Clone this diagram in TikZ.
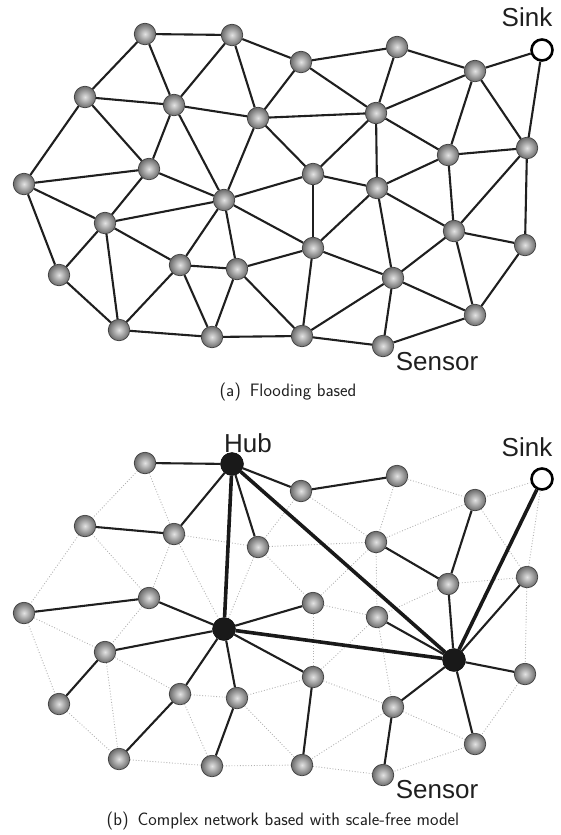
\documentclass[tikz,border=0pt]{standalone}
\usepackage{fontspec}
\newfontfamily\arialf{Liberation Sans}
\begin{document}
\begin{tikzpicture}[x=1pt,y=-1pt,
  sball/.style={circle, minimum size=21.5pt, inner sep=0pt, draw=black!75, line width=0.7pt,
    shading=radial, inner color=gray!22, outer color=black!58},
  sinknode/.style={circle, minimum size=21pt, inner sep=0pt, draw=black, line width=2.6pt, fill=white},
  hubnode/.style={circle, minimum size=23pt, inner sep=0pt, fill=black!90, draw=black},
  edge/.style={draw=black!88, line width=2.1pt},
  thickedge/.style={draw=black!90, line width=3.6pt},
  mesh/.style={draw=gray!60, line width=0.9pt, dash pattern=on 0.9pt off 1.9pt},
  lbl/.style={inner sep=0pt, font=\arialf\fontsize{26}{30}\selectfont, text=black!88},
  captext/.style={inner sep=0pt, font=\sffamily\fontsize{18}{21}\selectfont, text=black!88}]
\useasboundingbox (0,0) rectangle (560,835);

% ---------- panel (a) nodes ----------
\foreach \i/\x/\y in {1/145/34, 2/232/35, 3/85/97, 4/174/105, 5/258/118, 6/149/169,
  7/24/184, 8/224/200, 9/301/62, 10/397/47, 12/475/71, 13/376/113, 14/448/155,
  15/527/148, 16/313/174, 17/377/188, 18/105/223, 19/59/275, 20/180/265, 21/237/269,
  22/119/330, 23/212/337, 24/313/248, 25/454/231, 26/525/245, 27/393/278, 28/302/336,
  29/475/315, 30/383/346}
  {\node[sball] (a\i) at (\x,\y) {};}
\node[sinknode] (a11) at (542,50) {};

% ---------- panel (b) nodes ----------
\foreach \i/\x/\y in {1/145/34, 3/85/97, 4/174/105, 5/258/118, 6/149/169,
  7/24/184, 9/301/62, 10/397/47, 12/475/71, 13/376/113, 14/448/155,
  15/527/148, 16/313/174, 17/377/188, 18/105/223, 19/59/275, 20/180/265, 21/237/269,
  22/119/330, 23/212/337, 24/313/248, 26/525/245, 27/393/278, 28/302/336,
  29/475/315, 30/383/346}
  {\node[sball] (b\i) at (\x,\y+429) {};}
\node[sinknode] (b11) at (542,479) {};
\node[hubnode] (b2) at (232,464) {};
\node[hubnode] (b8) at (224,629) {};
\node[hubnode] (b25) at (454,660) {};

% ---------- mesh edges ----------
\foreach \u/\v in {1/2, 1/3, 1/4, 2/4, 2/5, 2/9, 3/4, 3/6, 3/7, 4/5, 4/6, 4/8, 5/8, 5/9,
  5/13, 5/16, 6/7, 6/8, 6/18, 7/18, 7/19, 8/16, 8/18, 8/20, 8/21, 8/24, 9/10, 9/13,
  10/13, 10/12, 11/12, 11/15, 12/13, 12/14, 12/15, 13/14, 13/16, 13/17, 14/15, 14/17,
  14/25, 15/25, 15/26, 16/17, 16/24, 17/24, 17/25, 17/27, 18/19, 18/20, 18/22, 19/22,
  20/21, 20/22, 20/23, 21/23, 21/24, 21/28, 22/23, 23/28, 24/27, 24/28, 25/26, 25/27,
  25/29, 26/29, 27/28, 27/29, 27/30, 28/30, 29/30}
  {\draw[edge] (a\u) -- (a\v);
   \draw[mesh] (b\u) -- (b\v);}

% ---------- scale-free edges ----------
\foreach \u/\v in {1/2, 2/4, 3/4, 2/5, 2/9, 6/7, 6/8, 9/10, 12/14, 13/14, 14/25, 15/25,
  8/16, 17/25, 25/26, 25/27, 25/29, 8/24, 24/28, 27/30, 8/18, 18/19, 8/20, 20/22,
  8/21, 21/23}
  {\draw[edge] (b\u) -- (b\v);}
\foreach \u/\v in {2/8, 2/25, 8/25, 11/25}
  {\draw[thickedge] (b\u) -- (b\v);}

% ---------- labels ----------
\node[lbl] (sinka) at (527,17) {Sink};
\node[lbl] (sensa) at (437,362) {Sensor};
\node[lbl] (sinkb) at (527,447) {Sink};
\node[lbl] (hubb) at (248,443) {Hub};
\node[lbl] (sensb) at (437,790) {Sensor};
\node[captext] (capa) at (288,392) {(a)\enspace Flooding based};
\node[captext] (capb) at (283,821) {(b)\enspace Complex network based with scale-free model};
\end{tikzpicture}
\end{document}
